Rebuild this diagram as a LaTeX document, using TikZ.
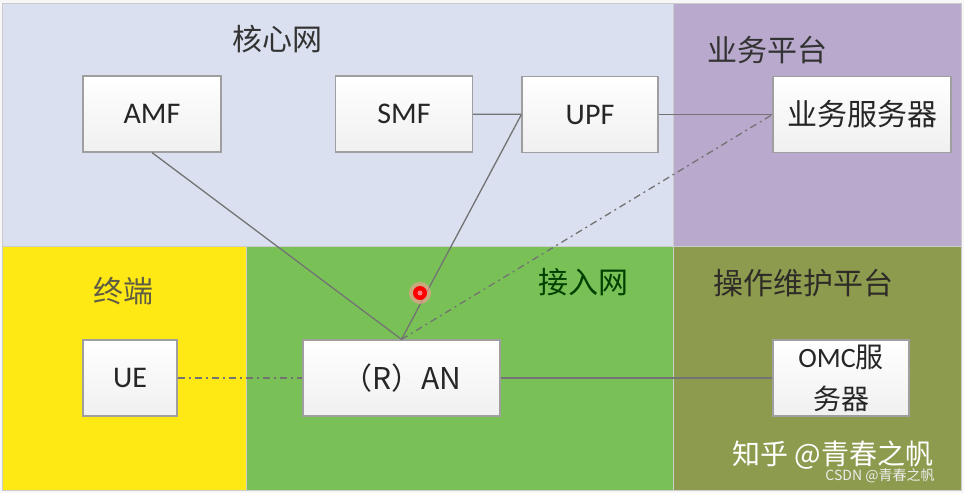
\documentclass[tikz,border=0pt]{standalone}
\usepackage{fontspec}
\setmainfont{Carlito}
\newfontfamily\cjk{Noto Sans CJK SC}
\usepackage{tikz}
\usetikzlibrary{positioning}

\definecolor{corebg}{HTML}{DAE0EF}
\definecolor{svcbg}{HTML}{B9A9CD}
\definecolor{uebg}{HTML}{FFE915}
\definecolor{anbg}{HTML}{79C156}
\definecolor{ombg}{HTML}{8D9B4F}

\begin{document}
\begin{tikzpicture}[
    x=1pt, y=-1pt,
    % white boxes for the network functions
    func/.style={
        rectangle, draw=gray!75, line width=1.2pt,
        top color=white, bottom color=gray!12,
        minimum height=76pt, inner sep=2pt, align=center,
        text=black!85, font=\fontsize{30}{36}\selectfont
    },
    zone/.style={draw=gray!40, line width=0.8pt},
    title/.style={font=\cjk\fontsize{30}{36}\selectfont},
    link/.style={draw=black!55, line width=1.3pt},
    dlink/.style={link, dash pattern=on 7pt off 4pt on 2pt off 4pt}
]
  % background and the five areas
  \fill[white!94!gray] (0,0) rectangle (964,493);
  \filldraw[zone, fill=corebg] (2,3) rectangle (673,246);
  \filldraw[zone, fill=svcbg] (673,3) rectangle (961,246);
  \filldraw[zone, fill=uebg] (2,246) rectangle (246,490);
  \filldraw[zone, fill=anbg] (246,246) rectangle (673,490);
  \filldraw[zone, fill=ombg] (673,246) rectangle (961,490);

  % area titles
  \node[title, text=black!80] (tcore) at (277,39) {核心网};
  \node[title, text=black!80] (tsvc) at (767,50) {业务平台};
  \node[title, text=black!72!yellow] (tue) at (123,291) {终端};
  \node[title, text=black!75!green] (tan) at (583,282) {接入网};
  \node[title, text=black!88!olive] (tom) at (803,283) {操作维护平台};

  % Top Row: core network and service platform
  \node[func, minimum width=138pt] (amf) at (152,114) {AMF};
  \node[func, minimum width=137pt] (smf) at (404,114) {SMF};
  \node[func, minimum width=136pt] (upf) at (590,114.5) {UPF};
  \node[func, minimum width=178pt] (appsrv) at (862,114.5) {\cjk 业务服务器};

  % Bottom Row: terminal, access network, O&M
  \node[func, minimum width=94pt] (ue) at (130,378) {UE};
  \node[func, minimum width=197pt] (ran) at (401.5,378) {\cjk{（}R\cjk{）}AN};
  \node[func, minimum width=136pt, font=\fontsize{28}{42}\selectfont] (omc) at (841,378) {OMC\cjk{服}\\\cjk{务器}};

  % Connecting lines
  \draw[link] (amf.south) -- (ran.north);
  \draw[link] (upf.west) -- (ran.north);
  \draw[link] (smf) -- (upf);
  \draw[link] (upf) -- (appsrv);
  \draw[dlink] (ran.north) -- (appsrv.west);
  \draw[dlink] (ue) -- (ran);
  \draw[link] (ran) -- (omc);

  % pointer dot
  \fill[red!40, opacity=0.6] (420,293) circle (11);
  \fill[red] (420,293) circle (7);
  \fill[red!50!white] (420,293) circle (2.5);

  % watermark
  \node[font=\cjk\fontsize{28}{30}\selectfont, text=white] (zh) at (833,455) {知乎 @青春之帆};
  \node[font=\cjk\fontsize{14}{16}\selectfont, text=white!85!gray] (csdn) at (880,476) {CSDN @青春之帆};
\end{tikzpicture}
\end{document}
